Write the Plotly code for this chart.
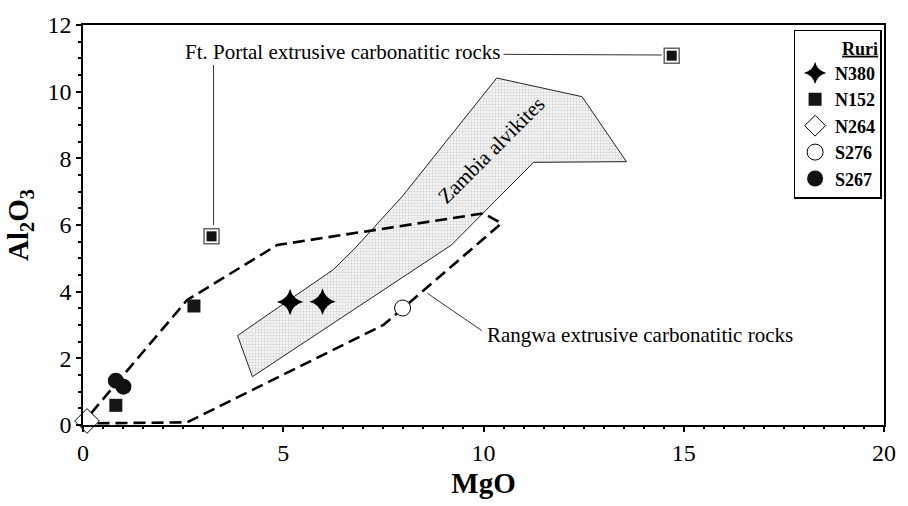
import plotly.graph_objects as go

# ---- data ----
n380_x = [5.17, 5.98]
n380_y = [3.69, 3.70]
n152_x = [0.82, 2.77]
n152_y = [0.59, 3.57]
n264_x = [0.10]
n264_y = [0.12]
s276_x = [7.98]
s276_y = [3.51]
s267_x = [0.82, 1.01]
s267_y = [1.33, 1.15]
ftportal_x = [3.21, 14.70]
ftportal_y = [5.66, 11.08]

rangwa_x = [0.2, 2.6, 4.85, 10.0, 10.45, 7.5, 2.6, 0.3, 0.2]
rangwa_y = [0.35, 3.75, 5.4, 6.35, 6.05, 3.0, 0.08, 0.05, 0.35]

zambia_x = [3.86, 4.23, 9.2, 11.25, 13.57, 12.46, 10.33, 7.98, 6.82, 6.25, 4.6, 3.86]
zambia_y = [2.68, 1.45, 5.4, 7.88, 7.9, 9.85, 10.41, 6.87, 5.34, 4.66, 3.3, 2.68]

SERIF = "Liberation Serif, Times New Roman, serif"

fig = go.Figure()

# Zambia alvikites field (stippled)
fig.add_trace(go.Scatter(
    x=zambia_x, y=zambia_y, mode="lines", fill="toself",
    line=dict(color="#222", width=1),
    fillcolor="#efefef",
    fillpattern=dict(shape=".", fgcolor="#b0b0b0", bgcolor="#f4f4f4", size=3, solidity=0.3),
    showlegend=False, hoverinfo="skip"))

# Rangwa field (dashed)
fig.add_trace(go.Scatter(
    x=rangwa_x, y=rangwa_y, mode="lines",
    line=dict(color="black", width=2.6, dash="12px,6px"),
    showlegend=False, hoverinfo="skip"))

# Ft. Portal squares (framed)
fig.add_trace(go.Scatter(
    x=ftportal_x, y=ftportal_y, mode="markers",
    marker=dict(symbol="square", size=15, color="white", line=dict(color="#666", width=1.5)),
    showlegend=False, cliponaxis=False))
fig.add_trace(go.Scatter(
    x=ftportal_x, y=ftportal_y, mode="markers",
    marker=dict(symbol="square", size=10, color="#111", line=dict(width=0)),
    showlegend=False, cliponaxis=False))

fig.add_trace(go.Scatter(
    x=n380_x, y=n380_y, mode="markers", name="<b>N380</b>",
    marker=dict(symbol="star-diamond", size=19, color="black", line=dict(width=0)),
    cliponaxis=False))
fig.add_trace(go.Scatter(
    x=n152_x, y=n152_y, mode="markers", name="<b>N152</b>",
    marker=dict(symbol="square", size=13, color="#151515", line=dict(width=0)),
    cliponaxis=False))
fig.add_trace(go.Scatter(
    x=n264_x, y=n264_y, mode="markers", name="<b>N264</b>",
    marker=dict(symbol="diamond", size=19, color="white", line=dict(color="black", width=1)),
    cliponaxis=False))
fig.add_trace(go.Scatter(
    x=s276_x, y=s276_y, mode="markers", name="<b>S276</b>",
    marker=dict(symbol="circle", size=16, color="white", line=dict(color="black", width=1)),
    cliponaxis=False))
fig.add_trace(go.Scatter(
    x=s267_x, y=s267_y, mode="markers", name="<b>S267</b>",
    marker=dict(symbol="circle", size=16, color="#111", line=dict(width=0)),
    cliponaxis=False))

# annotations
fig.add_annotation(x=2.5, y=11.18, text="Ft. Portal extrusive carbonatitic rocks",
                   showarrow=False, xanchor="left", yanchor="middle",
                   font=dict(family=SERIF, size=21, color="black"))
fig.add_annotation(x=10.04, y=2.71, text="Rangwa extrusive carbonatitic rocks",
                   showarrow=False, xanchor="left", yanchor="middle",
                   font=dict(family=SERIF, size=21, color="black"))
fig.add_annotation(x=10.2, y=8.25, text="Zambia alvikites", textangle=-45,
                   showarrow=False, xanchor="center", yanchor="middle",
                   font=dict(family=SERIF, size=21, color="black"))

# leader lines
fig.add_shape(type="line", x0=10.5, y0=11.12, x1=14.45, y1=11.1,
              line=dict(color="#333", width=1))
fig.add_shape(type="line", x0=3.26, y0=10.8, x1=3.26, y1=6.0,
              line=dict(color="#333", width=1))
fig.add_shape(type="line", x0=8.6, y0=3.95, x1=9.96, y1=2.83,
              line=dict(color="#333", width=1))

axis_common = dict(
    showline=True, linecolor="black", linewidth=1.5, mirror=True,
    ticks="outside", ticklen=5, tickwidth=1.5, tickcolor="black",
    showgrid=False, zeroline=False,
    tickfont=dict(family=SERIF, size=24, color="black"),
)

fig.update_xaxes(range=[0, 20], tickvals=[0, 5, 10, 15, 20], **axis_common,
                 minor=dict(dtick=0.5, ticks="outside", ticklen=2, tickwidth=1.5, tickcolor="black"),
                 title=dict(text="<b>MgO</b>", standoff=8,
                            font=dict(family=SERIF, size=29, color="black")))
fig.update_yaxes(range=[0, 12], tickvals=[0, 2, 4, 6, 8, 10, 12], **axis_common,
                 minor=dict(dtick=0.5, ticks="outside", ticklen=3, tickwidth=1.5, tickcolor="black"),
                 title=dict(text="<b>Al<sub>2</sub>O<sub>3</sub></b>", standoff=10,
                            font=dict(family=SERIF, size=29, color="black")))

fig.update_layout(
    width=908, height=506,
    margin=dict(l=83, r=15, t=24, b=75),
    paper_bgcolor="white", plot_bgcolor="white",
    showlegend=True,
    legend=dict(
        x=0.997, y=0.988, xanchor="right", yanchor="top",
        bgcolor="white", bordercolor="black", borderwidth=1.5,
        font=dict(family=SERIF, size=18, color="black"),
        title=dict(text="<b><u>Ruri</u></b>", side="top right",
                   font=dict(family=SERIF, size=18, color="black")),
        itemwidth=30, tracegroupgap=0,
    ),
)

fig.write_html("out.html")
